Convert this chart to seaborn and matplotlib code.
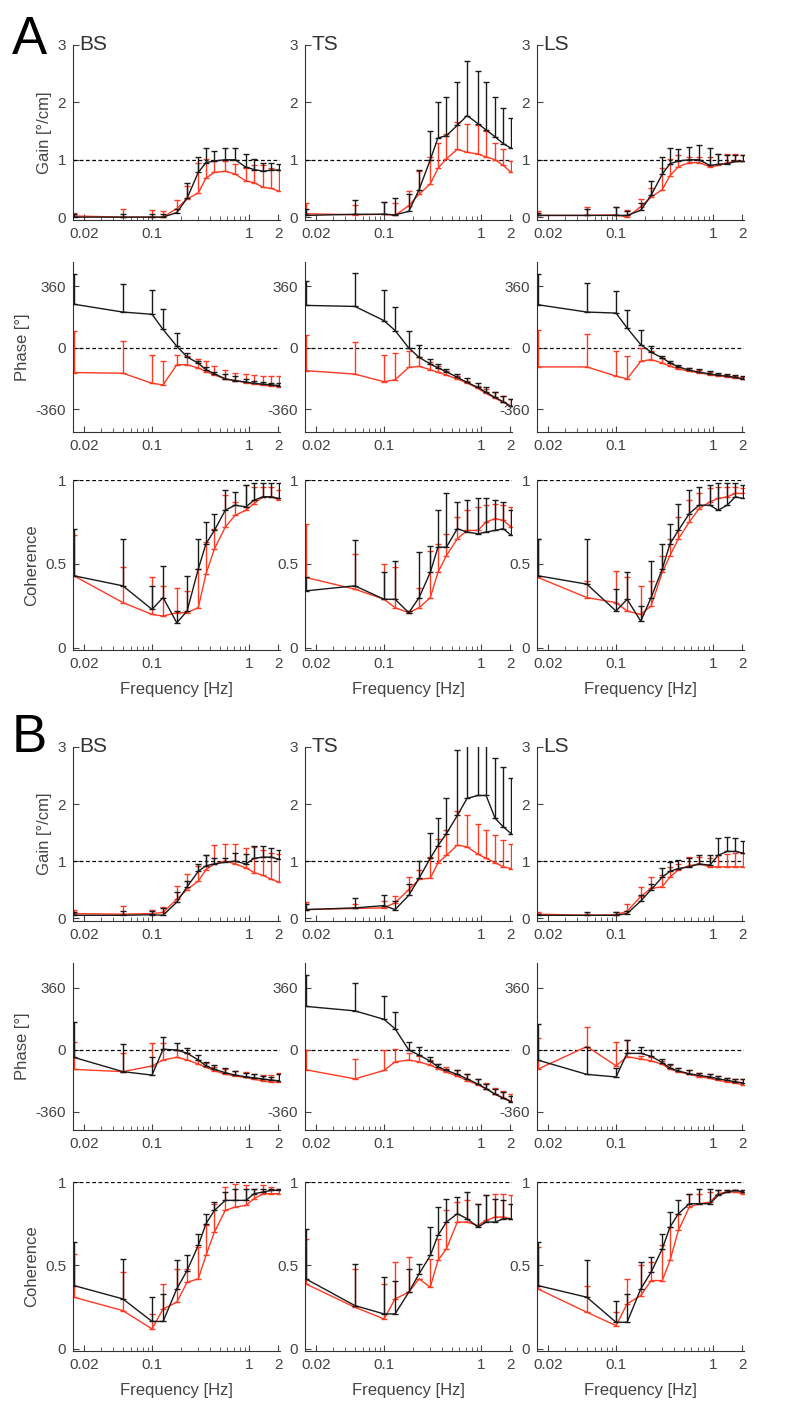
import matplotlib
matplotlib.use("Agg")
import matplotlib.pyplot as plt
import numpy as np
import seaborn as sns
from matplotlib.ticker import LogLocator, NullFormatter

sns.set_style("ticks")
plt.rcParams['font.family'] = ['Liberation Sans', 'DejaVu Sans']
plt.rcParams['axes.unicode_minus'] = False

freq = [0.0156, 0.05, 0.1, 0.13, 0.18, 0.23, 0.3, 0.36, 0.44, 0.57, 0.72, 0.93, 1.13, 1.4, 1.7, 2.05]

# ---- A: gain (mean, upper end of error bar) black / red
a_bs_gain_k = [0.0, 0.0, 0.0, 0.0, 0.08, 0.33, 0.78, 0.95, 0.98, 1.0, 1.0, 0.87, 0.83, 0.8, 0.82, 0.82]
a_bs_gain_kt = [0.05, 0.05, 0.05, 0.05, 0.15, 0.6, 1.05, 1.2, 1.15, 1.2, 1.2, 1.1, 1.02, 0.95, 0.95, 0.92]
a_bs_gain_r = [0.02, 0.0, 0.0, 0.0, 0.15, 0.32, 0.42, 0.68, 0.78, 0.8, 0.75, 0.63, 0.6, 0.52, 0.5, 0.45]
a_bs_gain_rt = [0.07, 0.15, 0.12, 0.1, 0.3, 0.55, 0.95, 1.02, 0.98, 0.98, 0.93, 0.85, 0.9, 0.9, 0.85, 0.82]
a_ts_gain_k = [0.03, 0.05, 0.05, 0.04, 0.1, 0.48, 1.0, 1.38, 1.42, 1.6, 1.77, 1.63, 1.52, 1.4, 1.28, 1.2]
a_ts_gain_kt = [0.15, 0.3, 0.27, 0.33, 0.4, 0.82, 1.5, 2.0, 2.1, 2.35, 2.72, 2.55, 2.35, 2.1, 1.9, 1.72]
a_ts_gain_r = [0.06, 0.04, 0.05, 0.03, 0.2, 0.4, 0.58, 0.85, 1.02, 1.18, 1.13, 1.1, 1.05, 1.0, 0.9, 0.78]
a_ts_gain_rt = [0.25, 0.22, 0.26, 0.25, 0.45, 0.8, 1.05, 1.3, 1.45, 1.65, 1.62, 1.6, 1.5, 1.3, 1.18, 0.98]
a_ls_gain_k = [0.03, 0.03, 0.03, 0.03, 0.12, 0.38, 0.75, 0.93, 0.98, 1.0, 1.0, 0.9, 0.92, 0.93, 0.97, 0.97]
a_ls_gain_kt = [0.08, 0.15, 0.17, 0.1, 0.25, 0.63, 1.05, 1.2, 1.18, 1.22, 1.25, 1.2, 1.1, 1.08, 1.08, 1.08]
a_ls_gain_r = [0.03, 0.03, 0.04, 0.0, 0.18, 0.35, 0.48, 0.72, 0.88, 0.95, 0.95, 0.88, 0.9, 0.95, 0.97, 0.97]
a_ls_gain_rt = [0.1, 0.17, 0.17, 0.12, 0.32, 0.5, 0.85, 1.02, 1.08, 1.05, 1.05, 1.05, 1.1, 1.1, 1.1, 1.08]

# ---- A: phase
a_bs_ph_k = [256, 210, 197, 108, 10, -53, -89, -128, -151, -181, -191, -200, -207, -212, -216, -220]
a_bs_ph_kt = [433, 374, 340, 226, 89, -30, -79, -112, -138, -151, -167, -181, -191, -197, -203, -207]
a_bs_ph_r = [-144, -148, -207, -216, -98, -98, -118, -138, -157, -183, -191, -203, -210, -218, -222, -226]
a_bs_ph_rt = [98, 39, -39, -79, -39, -49, -65, -79, -108, -128, -148, -153, -161, -167, -167, -167]
a_ts_ph_k = [249, 243, 160, 102, 0, -55, -94, -117, -139, -172, -202, -231, -260, -290, -315, -342]
a_ts_ph_kt = [391, 438, 342, 239, 98, 18, -65, -94, -123, -153, -178, -205, -231, -256, -280, -300]
a_ts_ph_r = [-133, -153, -198, -186, -114, -108, -127, -143, -159, -182, -205, -237, -266, -294, -319, -342]
a_ts_ph_rt = [78, 33, -41, -29, -16, -55, -80, -108, -133, -162, -192, -221, -241, -260, -280, -296]
a_ls_ph_k = [253, 210, 204, 117, 19, -25, -58, -88, -111, -130, -142, -152, -160, -165, -173, -181]
a_ls_ph_kt = [432, 379, 335, 224, 103, 10, -45, -78, -101, -117, -126, -136, -146, -152, -160, -165]
a_ls_ph_r = [-111, -111, -165, -181, -78, -68, -88, -107, -123, -136, -146, -156, -162, -169, -177, -181]
a_ls_ph_rt = [107, 82, -19, -49, 0, -19, -58, -88, -103, -117, -130, -142, -150, -158, -165, -171]

# ---- A: coherence
a_bs_co_k = [0.43, 0.37, 0.23, 0.30, 0.15, 0.22, 0.47, 0.62, 0.70, 0.82, 0.85, 0.84, 0.88, 0.90, 0.90, 0.89]
a_bs_co_kt = [0.71, 0.65, 0.37, 0.49, 0.22, 0.43, 0.65, 0.75, 0.80, 0.94, 0.93, 0.97, 0.98, 0.98, 0.98, 0.98]
a_bs_co_r = [0.43, 0.27, 0.20, 0.19, 0.21, 0.21, 0.24, 0.44, 0.59, 0.72, 0.79, 0.82, 0.86, 0.90, 0.90, 0.88]
a_bs_co_rt = [0.67, 0.48, 0.42, 0.37, 0.36, 0.34, 0.47, 0.63, 0.71, 0.91, 0.87, 0.97, 0.96, 0.96, 0.96, 0.94]
a_ts_co_k = [0.34, 0.37, 0.29, 0.29, 0.21, 0.30, 0.45, 0.60, 0.60, 0.71, 0.69, 0.68, 0.69, 0.70, 0.71, 0.67]
a_ts_co_kt = [0.42, 0.64, 0.45, 0.52, 0.22, 0.57, 0.61, 0.82, 0.92, 0.87, 0.88, 0.89, 0.89, 0.88, 0.87, 0.82]
a_ts_co_r = [0.42, 0.35, 0.29, 0.24, 0.21, 0.24, 0.30, 0.45, 0.55, 0.65, 0.70, 0.70, 0.75, 0.77, 0.76, 0.72]
a_ts_co_rt = [0.74, 0.56, 0.50, 0.48, 0.22, 0.36, 0.58, 0.62, 0.68, 0.78, 0.82, 0.84, 0.85, 0.86, 0.85, 0.84]
a_ls_co_k = [0.43, 0.38, 0.22, 0.29, 0.16, 0.30, 0.47, 0.62, 0.70, 0.80, 0.85, 0.85, 0.82, 0.85, 0.90, 0.89]
a_ls_co_kt = [0.65, 0.65, 0.35, 0.45, 0.25, 0.52, 0.62, 0.74, 0.86, 0.94, 0.96, 0.97, 0.98, 0.98, 0.98, 0.97]
a_ls_co_r = [0.42, 0.30, 0.27, 0.22, 0.20, 0.25, 0.45, 0.55, 0.65, 0.75, 0.83, 0.87, 0.89, 0.90, 0.92, 0.92]
a_ls_co_rt = [0.65, 0.40, 0.46, 0.42, 0.37, 0.40, 0.55, 0.65, 0.78, 0.88, 0.92, 0.95, 0.96, 0.96, 0.96, 0.95]

# ---- B: gain
b_bs_gain_k = [0.05, 0.05, 0.06, 0.05, 0.28, 0.55, 0.82, 0.92, 0.95, 0.98, 1.0, 0.95, 1.05, 1.07, 1.07, 1.03]
b_bs_gain_kt = [0.1, 0.12, 0.12, 0.18, 0.45, 0.65, 0.95, 1.1, 1.05, 1.05, 1.15, 1.12, 1.27, 1.27, 1.23, 1.2]
b_bs_gain_r = [0.08, 0.07, 0.08, 0.1, 0.33, 0.5, 0.65, 0.85, 0.95, 1.0, 0.95, 0.88, 0.8, 0.75, 0.68, 0.63]
b_bs_gain_rt = [0.15, 0.22, 0.15, 0.2, 0.57, 0.77, 0.92, 1.1, 1.28, 1.3, 1.3, 1.23, 1.25, 1.2, 1.15, 1.12]
b_ts_gain_k = [0.15, 0.18, 0.22, 0.15, 0.4, 0.7, 1.05, 1.27, 1.48, 1.8, 2.1, 2.15, 2.15, 1.75, 1.6, 1.48]
b_ts_gain_kt = [0.25, 0.35, 0.4, 0.3, 0.6, 1.0, 1.5, 1.75, 2.1, 2.95, 3.2, 3.2, 3.2, 2.8, 2.65, 2.45]
b_ts_gain_r = [0.15, 0.17, 0.18, 0.27, 0.5, 0.68, 0.7, 0.97, 1.1, 1.28, 1.25, 1.12, 1.05, 0.97, 0.9, 0.87]
b_ts_gain_rt = [0.28, 0.25, 0.3, 0.38, 0.72, 0.85, 1.08, 1.38, 1.55, 1.87, 1.8, 1.65, 1.55, 1.45, 1.37, 1.3]
b_ls_gain_k = [0.05, 0.05, 0.05, 0.08, 0.3, 0.5, 0.72, 0.82, 0.87, 0.9, 0.95, 0.93, 1.1, 1.17, 1.17, 1.14]
b_ls_gain_kt = [0.08, 0.1, 0.1, 0.12, 0.4, 0.6, 0.88, 0.98, 1.02, 1.05, 1.1, 1.1, 1.4, 1.42, 1.4, 1.35]
b_ls_gain_r = [0.07, 0.05, 0.06, 0.12, 0.38, 0.52, 0.55, 0.72, 0.85, 0.92, 0.95, 0.9, 0.9, 0.9, 0.9, 0.9]
b_ls_gain_rt = [0.1, 0.08, 0.1, 0.25, 0.55, 0.72, 0.75, 0.9, 0.95, 1.08, 1.08, 1.05, 1.1, 1.12, 1.15, 1.15]

# ---- B: phase
b_bs_ph_k = [-43, -126, -146, 4, 0, -19, -58, -93, -113, -132, -146, -156, -162, -169, -175, -179]
b_bs_ph_kt = [160, 35, -39, 78, 39, 10, -29, -68, -88, -107, -121, -132, -140, -150, -156, -140]
b_bs_ph_r = [-113, -126, -93, -58, -43, -58, -82, -101, -121, -140, -152, -160, -171, -179, -185, -189]
b_bs_ph_rt = [49, -19, 39, 39, 0, -19, -58, -78, -97, -113, -121, -128, -140, -146, -146, -136]
b_ts_ph_k = [253, 227, 178, 123, 0, -30, -65, -99, -119, -142, -168, -198, -224, -257, -281, -301]
b_ts_ph_kt = [435, 386, 316, 222, 49, 20, -40, -79, -109, -119, -138, -168, -198, -227, -247, -267]
b_ts_ph_r = [-115, -168, -119, -69, -59, -69, -89, -109, -129, -152, -178, -202, -227, -257, -277, -297]
b_ts_ph_rt = [0, -55, 0, 6, -20, -36, -59, -79, -99, -119, -138, -168, -194, -222, -241, -253]
b_ls_ph_k = [-59, -142, -157, -20, -20, -37, -73, -106, -122, -138, -148, -157, -167, -177, -185, -191]
b_ls_ph_kt = [153, 20, -102, 55, 20, 0, -53, -83, -102, -118, -132, -142, -151, -161, -167, -171]
b_ls_ph_r = [-112, 20, -92, -39, -53, -63, -83, -112, -126, -142, -155, -165, -177, -185, -193, -201]
b_ls_ph_rt = [71, 134, 45, 59, -33, -39, -63, -89, -106, -118, -132, -142, -151, -161, -167, -171]

# ---- B: coherence
b_bs_co_k = [0.38, 0.30, 0.165, 0.165, 0.36, 0.47, 0.62, 0.75, 0.83, 0.89, 0.89, 0.89, 0.93, 0.94, 0.95, 0.95]
b_bs_co_kt = [0.64, 0.54, 0.31, 0.33, 0.53, 0.56, 0.69, 0.81, 0.88, 0.94, 0.96, 0.96, 0.96, 0.96, 0.96, 0.96]
b_bs_co_r = [0.31, 0.23, 0.12, 0.24, 0.28, 0.40, 0.42, 0.56, 0.70, 0.83, 0.85, 0.86, 0.90, 0.93, 0.93, 0.93]
b_bs_co_rt = [0.57, 0.46, 0.21, 0.39, 0.48, 0.48, 0.61, 0.74, 0.87, 0.97, 0.99, 0.98, 0.96, 0.98, 0.97, 0.96]
b_ts_co_k = [0.42, 0.26, 0.21, 0.21, 0.34, 0.45, 0.56, 0.68, 0.76, 0.81, 0.78, 0.73, 0.76, 0.76, 0.78, 0.78]
b_ts_co_kt = [0.72, 0.51, 0.43, 0.41, 0.48, 0.51, 0.73, 0.85, 0.90, 0.91, 0.94, 0.87, 0.92, 0.90, 0.89, 0.87]
b_ts_co_r = [0.39, 0.25, 0.18, 0.30, 0.34, 0.42, 0.37, 0.53, 0.60, 0.76, 0.76, 0.74, 0.77, 0.79, 0.79, 0.78]
b_ts_co_rt = [0.66, 0.48, 0.39, 0.52, 0.55, 0.42, 0.54, 0.66, 0.83, 0.88, 0.89, 0.87, 0.92, 0.93, 0.93, 0.92]
b_ls_co_k = [0.38, 0.31, 0.16, 0.16, 0.36, 0.46, 0.60, 0.73, 0.81, 0.87, 0.87, 0.87, 0.92, 0.94, 0.95, 0.94]
b_ls_co_kt = [0.64, 0.53, 0.29, 0.33, 0.52, 0.55, 0.69, 0.82, 0.89, 0.93, 0.96, 0.96, 0.95, 0.95, 0.95, 0.95]
b_ls_co_r = [0.36, 0.22, 0.14, 0.27, 0.32, 0.41, 0.41, 0.53, 0.71, 0.85, 0.87, 0.88, 0.93, 0.94, 0.94, 0.93]
b_ls_co_rt = [0.61, 0.38, 0.22, 0.42, 0.50, 0.52, 0.62, 0.73, 0.81, 0.93, 0.93, 0.94, 0.95, 0.95, 0.95, 0.94]

cols = ["BS", "TS", "LS"]
panels = {
    "A": [
        [(a_bs_gain_k, a_bs_gain_kt, a_bs_gain_r, a_bs_gain_rt),
         (a_ts_gain_k, a_ts_gain_kt, a_ts_gain_r, a_ts_gain_rt),
         (a_ls_gain_k, a_ls_gain_kt, a_ls_gain_r, a_ls_gain_rt)],
        [(a_bs_ph_k, a_bs_ph_kt, a_bs_ph_r, a_bs_ph_rt),
         (a_ts_ph_k, a_ts_ph_kt, a_ts_ph_r, a_ts_ph_rt),
         (a_ls_ph_k, a_ls_ph_kt, a_ls_ph_r, a_ls_ph_rt)],
        [(a_bs_co_k, a_bs_co_kt, a_bs_co_r, a_bs_co_rt),
         (a_ts_co_k, a_ts_co_kt, a_ts_co_r, a_ts_co_rt),
         (a_ls_co_k, a_ls_co_kt, a_ls_co_r, a_ls_co_rt)],
    ],
    "B": [
        [(b_bs_gain_k, b_bs_gain_kt, b_bs_gain_r, b_bs_gain_rt),
         (b_ts_gain_k, b_ts_gain_kt, b_ts_gain_r, b_ts_gain_rt),
         (b_ls_gain_k, b_ls_gain_kt, b_ls_gain_r, b_ls_gain_rt)],
        [(b_bs_ph_k, b_bs_ph_kt, b_bs_ph_r, b_bs_ph_rt),
         (b_ts_ph_k, b_ts_ph_kt, b_ts_ph_r, b_ts_ph_rt),
         (b_ls_ph_k, b_ls_ph_kt, b_ls_ph_r, b_ls_ph_rt)],
        [(b_bs_co_k, b_bs_co_kt, b_bs_co_r, b_bs_co_rt),
         (b_ts_co_k, b_ts_co_kt, b_ts_co_r, b_ts_co_rt),
         (b_ls_co_k, b_ls_co_kt, b_ls_co_r, b_ls_co_rt)],
    ],
}

W, H = 803, 1401
fig = plt.figure(figsize=(W / 100, H / 100), dpi=100)

# pixel boxes (top, bottom) and y limits per row
rows = {
    "A": [(45, 220, (-0.05, 3)), (262, 432, (-492, 503)), (480, 650, (-0.012, 1))],
    "B": [(747, 921, (-0.05, 3)), (963, 1130, (-465, 505)), (1182, 1351, (-0.012, 1))],
}
col_left = [73, 305, 537]
ax_w = 207
RED = "#ff3a22"
BLK = "#1a1a1a"
GRAY = "#444444"

for grp in ["A", "B"]:
    for ri, (top, bot, ylim) in enumerate(rows[grp]):
        for ci in range(3):
            k, kt, r, rt = panels[grp][ri][ci]
            ax = fig.add_axes([col_left[ci] / W, 1 - bot / H, ax_w / W, (bot - top) / H])
            ax.set_xscale("log")
            ref = [1, 0, 1][ri]
            ax.axhline(ref, color="black", ls=(0, (3, 2)), lw=0.9, zorder=1)
            for m, t, c, z in [(r, rt, RED, 2), (k, kt, BLK, 3)]:
                m = np.array(m, float)
                t = np.array(t, float)
                sns.lineplot(x=freq, y=m, color=c, lw=1.0, ax=ax, zorder=z)
                ax.errorbar(freq, m, yerr=[np.zeros_like(m), t - m], fmt="none",
                            ecolor=c, elinewidth=1.0, capsize=2.2, capthick=1.0, zorder=z)
            ax.set_xlim(0.0153, 2.09)
            ax.set_ylim(*ylim)
            sns.despine(ax=ax)
            ax.spines["left"].set_color("#333")
            ax.spines["bottom"].set_color("#333")
            ax.set_xticks([0.02, 0.1, 1, 2])
            ax.set_xticklabels(["0.02", "0.1", "1", "2"])
            ax.xaxis.set_minor_locator(LogLocator(base=10, subs=np.arange(2, 10)))
            ax.xaxis.set_minor_formatter(NullFormatter())
            ax.tick_params(which="both", direction="in", colors=GRAY, labelsize=11, length=4, pad=5)
            ax.tick_params(which="minor", length=3)
            if ri == 0:
                ax.set_yticks([0, 1, 2, 3])
                ax.text(0.03, 1.0, cols[ci], transform=ax.transAxes, fontsize=15,
                        color="#333", va="center", ha="left")
                if ci == 0:
                    ax.set_ylabel("Gain [°/cm]", fontsize=12, color=GRAY)
            elif ri == 1:
                ax.set_yticks([-360, 0, 360])
                if ci == 0:
                    ax.set_ylabel("Phase [°]", fontsize=12, color=GRAY)
            else:
                ax.set_yticks([0, 0.5, 1])
                ax.set_yticklabels(["0", "0.5", "1"])
                ax.set_xlabel("Frequency [Hz]", fontsize=12, color=GRAY, labelpad=8)
                if ci == 0:
                    ax.set_ylabel("Coherence", fontsize=12, color=GRAY)
            ax.set_facecolor("white")

fig.text(12 / W, 1 - 54 / H, "A", fontsize=38, color="black", va="baseline")
fig.text(12 / W, 1 - 752 / H, "B", fontsize=38, color="black", va="baseline")

fig.savefig("out.png", dpi=100, facecolor="white")
